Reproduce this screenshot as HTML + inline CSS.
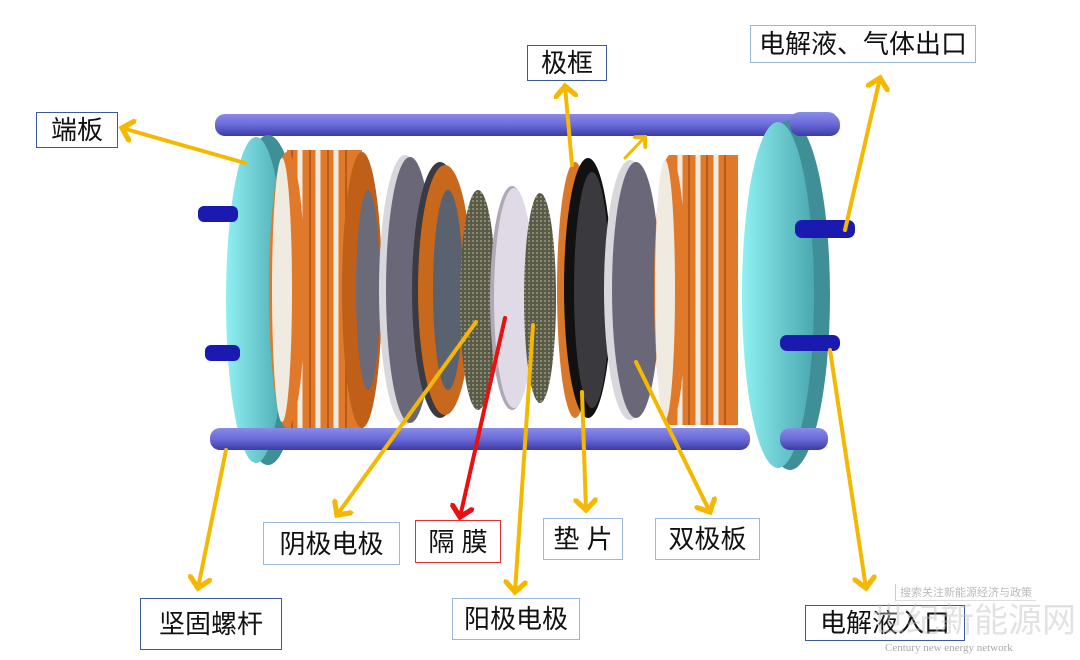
<!DOCTYPE html>
<html><head><meta charset="utf-8"><style>
html,body{margin:0;padding:0;background:#fff;}
.wrap{position:relative;width:1080px;height:660px;overflow:hidden;font-family:"Liberation Sans","Noto Sans CJK SC",sans-serif;}
.lb{position:absolute;border:1.5px solid #3a5a9a;background:#fff;color:#111;font-size:26px;line-height:1;display:flex;align-items:center;justify-content:center;box-sizing:border-box;white-space:nowrap;}
</style></head><body><div class="wrap">
<svg width="1080" height="660" style="position:absolute;left:0;top:0">
<defs>
<linearGradient id="rod" x1="0" y1="0" x2="0" y2="1"><stop offset="0" stop-color="#8a8ae8"/><stop offset=".5" stop-color="#6a6ad8"/><stop offset="1" stop-color="#3c3ca8"/></linearGradient>
<linearGradient id="plate" x1="0" y1="0" x2="1" y2="0"><stop offset="0" stop-color="#8ff0f2"/><stop offset="1" stop-color="#4aa8b0"/></linearGradient>
<pattern id="mesh" width="4" height="4" patternUnits="userSpaceOnUse"><rect width="4" height="4" fill="#5a5a48"/><rect width="2" height="2" fill="#8a8a70"/></pattern>
<marker id="ay" markerWidth="6" markerHeight="6" refX="3" refY="3" orient="auto"><path d="M0,0 L3,3 L0,6" fill="none" stroke="#f5b800" stroke-width="1.3"/></marker>
<marker id="ar" markerWidth="6" markerHeight="6" refX="3" refY="3" orient="auto"><path d="M0,0 L3,3 L0,6" fill="none" stroke="#e81010" stroke-width="1.3"/></marker>
</defs>
<rect x="215" y="114" width="625" height="22" rx="10" fill="url(#rod)"/>
<!-- left plate -->
<ellipse cx="268" cy="300" rx="36" ry="165" fill="#3f8f96"/>
<ellipse cx="256" cy="300" rx="30" ry="163" fill="url(#plate)"/>
<rect x="198" y="206" width="40" height="16" rx="6" fill="#1a1ab0"/>
<rect x="205" y="345" width="35" height="16" rx="6" fill="#1a1ab0"/>
<!-- left coil stack -->
<rect x="287" y="150" width="75" height="280" fill="#e07a2a"/>
<path d="M300 150 v280 M318 150 v280 M336 150 v280" stroke="#f0ebe0" stroke-width="5"/>
<path d="M292 150 v280 M310 150 v280 M328 150 v280 M346 150 v280" stroke="#b85a18" stroke-width="2"/>
<ellipse cx="287" cy="290" rx="18" ry="138" fill="#e07a2a"/>
<ellipse cx="282" cy="290" rx="10" ry="132" fill="#f0ebe0"/>
<ellipse cx="362" cy="290" rx="20" ry="138" fill="#c06018"/>
<ellipse cx="368" cy="290" rx="12" ry="100" fill="#6a6a78"/>
<!-- grey disc -->
<ellipse cx="405" cy="290" rx="26" ry="135" fill="#d8d8dc"/>
<ellipse cx="410" cy="290" rx="24" ry="133" fill="#6a6878"/>
<!-- orange ring -->
<ellipse cx="440" cy="290" rx="28" ry="128" fill="#3a3a40"/>
<ellipse cx="445" cy="290" rx="27" ry="125" fill="#c8681c"/>
<ellipse cx="448" cy="290" rx="15" ry="100" fill="#5a6270"/>
<ellipse cx="478" cy="300" rx="18" ry="110" fill="url(#mesh)"/>
<ellipse cx="512" cy="298" rx="22" ry="112" fill="#b0a8b8"/>
<ellipse cx="514" cy="298" rx="20" ry="110" fill="#e0dae6"/>
<ellipse cx="540" cy="298" rx="16" ry="105" fill="url(#mesh)"/>
<ellipse cx="575" cy="290" rx="18" ry="128" fill="#d8782a"/>
<ellipse cx="588" cy="288" rx="24" ry="130" fill="#111"/>
<ellipse cx="592" cy="290" rx="18" ry="118" fill="#3a3a3e"/>
<ellipse cx="630" cy="290" rx="26" ry="130" fill="#d8d8dc"/>
<ellipse cx="636" cy="290" rx="24" ry="128" fill="#6a6878"/>
<!-- right coil stack -->
<rect x="670" y="155" width="68" height="270" fill="#e07a2a"/>
<path d="M680 155 v270 M698 155 v270 M716 155 v270" stroke="#f0ebe0" stroke-width="5"/>
<path d="M689 155 v270 M707 155 v270 M725 155 v270" stroke="#b85a18" stroke-width="2"/>
<ellipse cx="670" cy="290" rx="16" ry="135" fill="#e07a2a"/>
<ellipse cx="665" cy="290" rx="10" ry="130" fill="#f0ebe0"/>
<!-- right plate -->
<ellipse cx="790" cy="295" rx="40" ry="175" fill="#3f8f96"/>
<ellipse cx="778" cy="295" rx="36" ry="173" fill="url(#plate)"/>
<rect x="795" y="220" width="60" height="18" rx="7" fill="#1a1ab0"/>
<rect x="780" y="335" width="60" height="16" rx="7" fill="#1a1ab0"/>
<rect x="790" y="112" width="48" height="24" rx="10" fill="url(#rod)"/>
<rect x="780" y="428" width="48" height="22" rx="10" fill="url(#rod)"/>
<rect x="210" y="428" width="540" height="22" rx="10" fill="url(#rod)"/>
<g stroke="#f5b800" stroke-width="4" fill="none" stroke-linecap="round">
<line x1="245" y1="163" x2="122" y2="128" marker-end="url(#ay)"/>
<line x1="572" y1="165" x2="565" y2="86" marker-end="url(#ay)"/>
<line x1="625" y1="158" x2="645" y2="137" marker-end="url(#ay)" stroke-width="3"/>
<line x1="845" y1="230" x2="880" y2="78" marker-end="url(#ay)"/>
<line x1="476" y1="322" x2="337" y2="515" marker-end="url(#ay)"/>
<line x1="533" y1="325" x2="515" y2="592" marker-end="url(#ay)"/>
<line x1="582" y1="392" x2="586" y2="510" marker-end="url(#ay)"/>
<line x1="636" y1="362" x2="710" y2="512" marker-end="url(#ay)"/>
<line x1="226" y1="450" x2="198" y2="588" marker-end="url(#ay)"/>
<line x1="830" y1="350" x2="866" y2="588" marker-end="url(#ay)"/>
</g>
<line x1="505" y1="318" x2="460" y2="517" stroke="#e81010" stroke-width="4" stroke-linecap="round" marker-end="url(#ar)"/>
</svg>
<div class="lb" style="left:36px;top:112px;width:82px;height:36px;">端板</div>
<div class="lb" style="left:527px;top:45px;width:80px;height:36px;">极框</div>
<div class="lb" style="left:750px;top:25px;width:226px;height:38px;border-color:#9ab8d8;">电解液、气体出口</div>
<div class="lb" style="left:263px;top:522px;width:137px;height:43px;border-color:#9ab8d8;">阴极电极</div>
<div class="lb" style="left:415px;top:520px;width:86px;height:43px;border-color:#e03030;">隔&nbsp;膜</div>
<div class="lb" style="left:543px;top:518px;width:80px;height:42px;border-color:#9ab8d8;">垫&nbsp;片</div>
<div class="lb" style="left:655px;top:518px;width:105px;height:42px;border-color:#9ab8d8;">双极板</div>
<div class="lb" style="left:452px;top:598px;width:128px;height:42px;border-color:#9ab8d8;">阳极电极</div>
<div class="lb" style="left:140px;top:598px;width:142px;height:52px;">坚固螺杆</div>
<div class="lb" style="left:805px;top:605px;width:160px;height:36px;">电解液入口</div>
<div style="position:absolute;left:895px;top:584px;font-size:11px;color:#bbb;border-left:1px solid #ccc;border-bottom:1px solid #ddd;padding:0 4px;white-space:nowrap;">搜索关注新能源经济与政策</div>
<div style="position:absolute;left:872px;top:604px;font-size:34px;color:rgba(190,190,190,0.45);white-space:nowrap;line-height:1;">世纪新能源网</div>
<div style="position:absolute;left:885px;top:642px;font-size:11px;color:#aaa;font-family:'Liberation Serif',serif;white-space:nowrap;">Century new energy network</div>
</div></body></html>
